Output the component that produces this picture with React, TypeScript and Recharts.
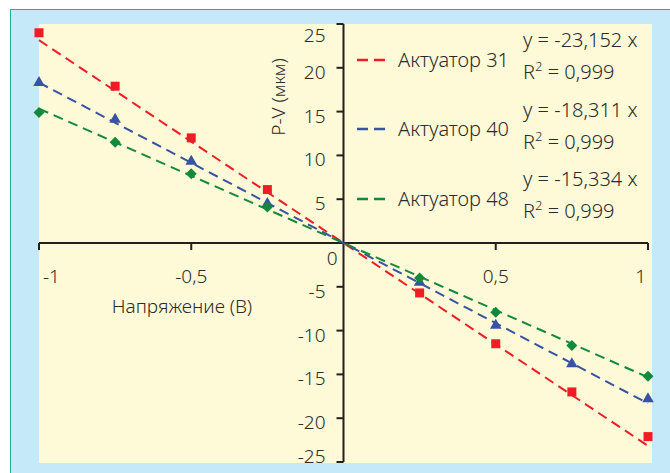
import React from "react";
import {
  ScatterChart,
  Scatter,
  XAxis,
  YAxis,
  ReferenceLine,
  Symbols,
} from "recharts";

// напряжение (В)
const volts = [-1, -0.75, -0.5, -0.25, 0.25, 0.5, 0.75, 1];

// P-V (мкм) по актуаторам
const act31 = [24.0, 17.9, 12.0, 6.1, -5.7, -11.5, -17.0, -22.1];
const act40 = [18.3, 14.1, 9.3, 4.5, -4.5, -9.4, -13.8, -17.8];
const act48 = [14.9, 11.5, 7.9, 4.1, -4.0, -7.9, -11.7, -15.2];

// линейные тренды (из подписей)
const seriesNames = ["Актуатор 31", "Актуатор 40", "Актуатор 48"];
const slopes = [-23.152, -18.311, -15.334];
const slopeLabels = ["-23,152", "-18,311", "-15,334"];
const r2Labels = ["0,999", "0,999", "0,999"];

const xTicks = [-1, -0.5, 0, 0.5, 1];
const xTickLabels = ["-1", "-0,5", "0", "0,5", "1"];
const yTicks = [-25, -20, -15, -10, -5, 0, 5, 10, 15, 20, 25];

const colors = ["#ee1c25", "#3953a4", "#12893b"];

const W = 670;
const H = 473;
const PLOT_LEFT = 39;
const PLOT_RIGHT = 648;
const PLOT_TOP = 24;
const PLOT_BOTTOM = 462;
const ZERO_X = (PLOT_LEFT + PLOT_RIGHT) / 2;
const ZERO_Y = (PLOT_TOP + PLOT_BOTTOM) / 2;

const FONT = "'Noto Sans', sans-serif";
const WEIGHT = 300;
const TEXT = "#2b2b2b";
const AXIS = "#231f20";

const allSeries = [act31, act40, act48].map((vals) =>
  volts.map((x, i) => ({ x, y: vals[i] }))
);

const XTick = (props: any) => {
  const { x, payload } = props;
  const v = payload.value;
  const idx = xTicks.indexOf(v);
  if (v === 0) return <g />;
  let anchor: any = "middle";
  let tx = x;
  if (idx === 0) {
    anchor = "start";
    tx = x + 4;
  } else if (idx === xTicks.length - 1) {
    anchor = "end";
    tx = x - 2;
  }
  return (
    <g>
      <line x1={x} x2={x} y1={ZERO_Y} y2={ZERO_Y + 7} stroke={AXIS} strokeWidth={2} />
      <text
        x={tx}
        y={ZERO_Y + 40}
        textAnchor={anchor}
        fontSize={19}
        fontWeight={WEIGHT}
        fontFamily={FONT}
        fill={TEXT}
      >
        {xTickLabels[idx]}
      </text>
    </g>
  );
};

const YTick = (props: any) => {
  const { y, payload } = props;
  const v = payload.value;
  if (v === 0) {
    return (
      <text
        x={ZERO_X - 6}
        y={ZERO_Y + 22}
        textAnchor="end"
        fontSize={19}
        fontWeight={WEIGHT}
        fontFamily={FONT}
        fill={TEXT}
      >
        0
      </text>
    );
  }
  let dy = 11;
  if (v === 25) dy = 18;
  if (v === -25) dy = 1;
  return (
    <g>
      <line x1={ZERO_X - 7} x2={ZERO_X} y1={y} y2={y} stroke={AXIS} strokeWidth={2} />
      <text
        x={ZERO_X - 18}
        y={y + dy}
        textAnchor="end"
        fontSize={19}
        fontWeight={WEIGHT}
        fontFamily={FONT}
        fill={TEXT}
      >
        {String(v)}
      </text>
    </g>
  );
};

const SquareDot = (props: any) => (
  <Symbols cx={props.cx} cy={props.cy} type="square" size={81} fill={colors[0]} />
);

const TriangleDot = (props: any) => (
  <Symbols cx={props.cx} cy={props.cy} type="triangle" size={58} fill={colors[1]} />
);

const DiamondDot = (props: any) => {
  const { cx, cy } = props;
  const r = 5.5;
  return (
    <polygon
      points={`${cx},${cy - r} ${cx + r},${cy} ${cx},${cy + r} ${cx - r},${cy}`}
      fill={colors[2]}
    />
  );
};

const dotShapes = [SquareDot, TriangleDot, DiamondDot];

const LegendBox = () => (
  <div
    style={{
      position: "absolute",
      left: 355,
      top: 25,
      width: 300,
      fontFamily: FONT,
      fontWeight: WEIGHT,
      color: TEXT,
    }}
  >
    {seriesNames.map((name, i) => (
      <div
        key={name}
        style={{ position: "relative", height: 69.5, display: "flex", alignItems: "center" }}
      >
        <svg width={28} height={6} style={{ marginLeft: 2 }}>
          <line x1={0} x2={28} y1={3} y2={3} stroke={colors[i]} strokeWidth={2.5} strokeDasharray="11 6" />
        </svg>
        <span style={{ marginLeft: 13, fontSize: 20, lineHeight: "20px" }}>{name}</span>
        <div
          style={{
            position: "absolute",
            left: 168,
            top: 2,
            fontSize: 20,
            lineHeight: "26px",
            whiteSpace: "nowrap",
          }}
        >
          <div>y = {slopeLabels[i]} x</div>
          <div>
            R<span style={{ fontSize: 13, verticalAlign: 8 }}>2</span> = {r2Labels[i]}
          </div>
        </div>
      </div>
    ))}
  </div>
);

export default function App() {
  return (
    <div
      style={{
        position: "absolute",
        left: 0,
        top: 0,
        width: W,
        height: H,
        background: "#ffffff",
        overflow: "hidden",
      }}
    >
      <div
        style={{
          position: "absolute",
          left: 10,
          top: 9,
          width: W,
          height: H,
          background: "#c5e9f8",
          borderLeft: "1.5px solid #1fb58f",
          borderTop: "1.5px solid #1fb58f",
        }}
      />
      <div
        style={{
          position: "absolute",
          left: PLOT_LEFT,
          top: PLOT_TOP,
          width: 652 - PLOT_LEFT,
          height: 463 - PLOT_TOP,
          background: "#fef9d6",
        }}
      />
      <div style={{ position: "absolute", left: 0, top: 0 }}>
        <ScatterChart
          width={W}
          height={H}
          margin={{ top: PLOT_TOP, right: W - PLOT_RIGHT, bottom: H - PLOT_BOTTOM - 1, left: PLOT_LEFT - 1 }}
        >
          <XAxis
            type="number"
            dataKey="x"
            domain={[-1, 1]}
            ticks={xTicks}
            interval={0}
            height={1}
            axisLine={false}
            tickLine={false}
            tick={<XTick />}
          />
          <YAxis
            type="number"
            dataKey="y"
            domain={[-25, 25]}
            ticks={yTicks}
            interval={0}
            width={1}
            axisLine={false}
            tickLine={false}
            tick={<YTick />}
          />
          <ReferenceLine y={0} stroke={AXIS} strokeWidth={2} />
          <ReferenceLine
            x={0}
            stroke={AXIS}
            strokeWidth={2}
            label={() => (
              <text
                transform={`translate(${ZERO_X - 59}, 97) rotate(-90)`}
                textAnchor="middle"
                fontSize={19}
                fontWeight={WEIGHT}
                fontFamily={FONT}
                fill={TEXT}
              >
                P-V (<tspan fontSize={17}>мкм</tspan>)
              </text>
            )}
          />
          <text
            x={182}
            y={313}
            textAnchor="middle"
            fontSize={19}
            fontWeight={WEIGHT}
            fontFamily={FONT}
            fill={TEXT}
          >
            Напряжение (В)
          </text>
          {slopes.map((k, i) => (
            <ReferenceLine
              key={"trend" + i}
              segment={[
                { x: -1, y: k * -1 },
                { x: 1, y: k * 1 },
              ]}
              stroke={colors[i]}
              strokeWidth={2}
              strokeDasharray="10 6"
              ifOverflow="visible"
            />
          ))}
          {allSeries.map((data, i) => {
            const Dot = dotShapes[i];
            return (
              <Scatter
                key={seriesNames[i]}
                name={seriesNames[i]}
                data={data}
                fill={colors[i]}
                shape={(p: any) => <Dot {...p} />}
                isAnimationActive={false}
              />
            );
          })}
        </ScatterChart>
      </div>
      <LegendBox />
    </div>
  );
}
